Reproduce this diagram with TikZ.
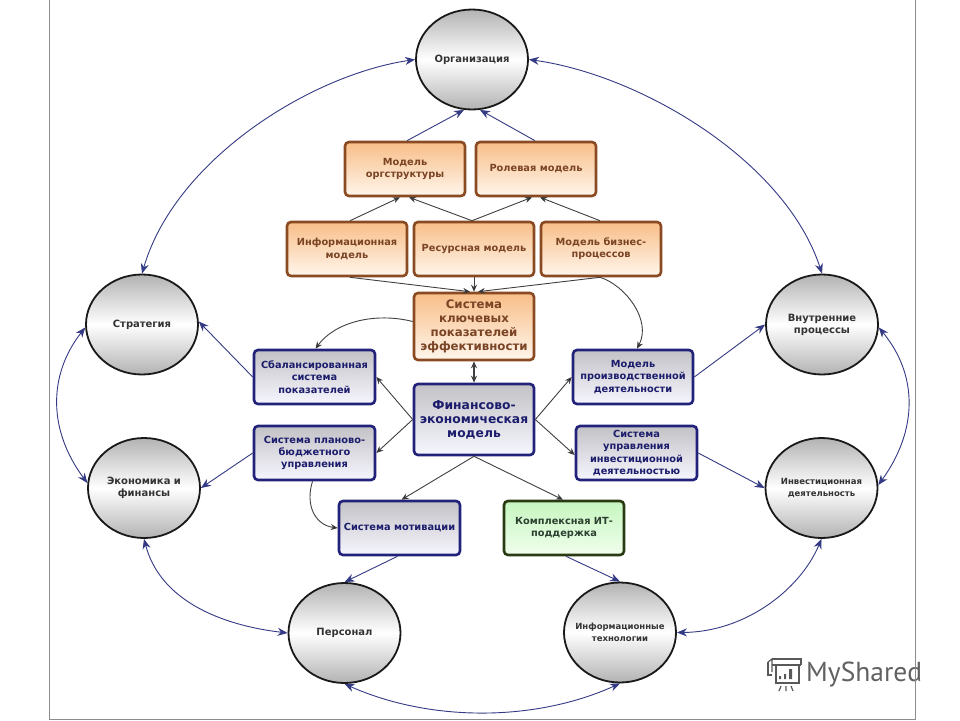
\documentclass[tikz,border=0pt]{standalone}
\usepackage{fontspec}
\setmainfont{DejaVu Sans}
\newfontfamily\wmfont{PT Sans}
\usetikzlibrary{arrows.meta,shapes.geometric}
\definecolor{brd}{HTML}{8A4A22}
\definecolor{brt}{HTML}{7A4425}
\definecolor{ort}{HTML}{F8BE88}
\definecolor{orb}{HTML}{FFF6EC}
\definecolor{blb}{HTML}{22227A}
\definecolor{blt}{HTML}{1C1C6C}
\definecolor{grt}{HTML}{C2C2C6}
\definecolor{grb}{HTML}{F6F6FE}
\definecolor{gnb}{HTML}{2A3A12}
\definecolor{gnt}{HTML}{2C4030}
\definecolor{gntop}{HTML}{C6F6C0}
\definecolor{gnbot}{HTML}{F0FEEC}
\definecolor{lnk}{HTML}{343A84}
\definecolor{circt}{HTML}{333333}
\tikzset{
  box/.style={rectangle,rounded corners=4pt,line width=2.6pt,minimum width=120pt,minimum height=54pt,align=center,inner sep=1pt,font=\fontsize{9.8}{12.2}\selectfont\bfseries},
  obox/.style={box,draw=brd,text=brt,top color=ort,bottom color=orb},
  bbox/.style={box,draw=blb,text=blt,top color=grt,bottom color=grb},
  gbox/.style={box,draw=gnb,text=gnt,top color=gntop,bottom color=gnbot},
  circ/.style={ellipse,draw=black!90,line width=1.8pt,minimum width=112pt,minimum height=100pt,inner sep=0pt,top color=black!30,bottom color=black!30,middle color=white},
  ctext/.style={align=center,text=circt,inner sep=0pt,font=\fontsize{10}{12.2}\selectfont\bfseries},
  csmall/.style={ctext,font=\fontsize{8.5}{11.5}\selectfont\bfseries},
  blue/.style={draw=lnk,line width=.9pt,-{Stealth[length=10pt,width=8pt,fill=lnk]}},
  bluetwo/.style={draw=lnk,line width=.9pt,{Stealth[length=10pt,width=8pt,fill=lnk]}-{Stealth[length=10pt,width=8pt,fill=lnk]}},
  inner/.style={draw=black!75,line width=.9pt,-{Stealth[length=7pt,width=6pt,fill=black]}},
  innertwo/.style={draw=black!75,line width=1.2pt,{Stealth[length=7pt,width=6pt,fill=black]}-{Stealth[length=7pt,width=6pt,fill=black]}}
}
\begin{document}
\begin{tikzpicture}[x=1pt,y=-1pt]
\useasboundingbox (0,0) rectangle (960,720);
\fill[white] (0,0) rectangle (960,720);

% circles
\node[circ,label={[ctext]center:Организация}] (org) at (472,59.5) {};
\node[circ,label={[ctext]center:Стратегия}] (str) at (142,324.5) {};
\node[circ,label={[ctext]center:{Экономика и\\финансы}}] (eco) at (144,488) {};
\node[circ,label={[ctext]center:{Внутренние\\процессы}}] (vnu) at (822,324.5) {};
\node[circ,label={[csmall]center:{Инвестиционная\\деятельность}}] (inv) at (821.5,488) {};
\node[circ,label={[ctext]center:Персонал}] (per) at (344.5,633) {};
\node[circ,label={[csmall]center:{Информационные\\технологии}}] (itc) at (620,632.5) {};

% boxes
\node[obox] (morg) at (405,169) {Модель\\оргструктуры};
\node[obox] (role) at (536,169) {Ролевая модель};
\node[obox] (info) at (347,249) {Информационная\\модель};
\node[obox] (res) at (474,249) {Ресурсная модель};
\node[obox] (biz) at (601,249) {Модель бизнес-\\процессов};
\node[obox,minimum height=67pt,font=\fontsize{11.8}{14}\selectfont\bfseries] (kpi) at (474,326.5) {Система\\ключевых\\показателей\\эффективности};
\node[bbox,minimum height=71pt,font=\fontsize{12.3}{14}\selectfont\bfseries] (fem) at (474,419.5) {Финансово-\\экономическая\\модель};
\node[bbox,minimum width=121pt] (bal) at (314.5,377) {Сбалансированная\\система\\показателей};
\node[bbox,minimum width=121pt] (plan) at (314.5,453) {Система планово-\\бюджетного\\управления};
\node[bbox] (prod) at (633,377) {Модель\\производственной\\деятельности};
\node[bbox,minimum width=121pt] (iman) at (636.5,453) {Система\\управления\\инвестиционной\\деятельностью};
\node[bbox,minimum width=121pt] (mot) at (399.5,528) {Система мотивации};
\node[gbox] (itb) at (564,528) {Комплексная ИТ-\\поддержка};

% circle-to-circle
\draw[bluetwo] (org.180) .. controls (310,75) and (175,160) .. (str.90);
\draw[bluetwo] (org.0) .. controls (640,75) and (785,160) .. (vnu.90);
\draw[bluetwo] (str.183) .. controls (48,375) and (48,430) .. (eco.175);
\draw[bluetwo] (vnu.357) .. controls (918,375) and (918,430) .. (inv.3);
\draw[bluetwo] (eco.270) .. controls (160,600) and (220,625) .. (per.180);
\draw[bluetwo] (per.270) .. controls (430,722) and (535,722) .. (itc.270);
\draw[bluetwo] (itc.0) .. controls (745,632) and (800,590) .. (inv.270);

% boxes to circles
\draw[blue] ([xshift=2]morg.north) -- (org.261);
\draw[blue] ([xshift=-1]role.north) -- (org.279);
\draw[blue] (bal.west) -- (str.3);
\draw[blue] (plan.west) -- (eco.0);
\draw[blue] (prod.east) -- (vnu.180);
\draw[blue] (iman.east) -- (inv.180);
\draw[blue] ([xshift=-2]mot.south) -- (per.90);
\draw[blue] ([xshift=2]itb.south) -- (itc.90);

% inner
\draw[inner] ([xshift=3]info.north) -- ([xshift=-5]morg.south);
\draw[inner] ([xshift=-2]res.north) -- ([xshift=4]morg.south);
\draw[inner] ([xshift=-2]res.north) -- ([xshift=-4]role.south);
\draw[inner] ([xshift=-1]biz.north) -- ([xshift=4]role.south);
\draw[inner] ([xshift=3]info.south) -- ([xshift=-4]kpi.north);
\draw[inner] (res.south) -- (kpi.north);
\draw[inner] ([xshift=-1]biz.south) -- ([xshift=4]kpi.north);
\draw[inner] ([xshift=-1]biz.south) .. controls (625,285) and (652,320) .. ([xshift=4]prod.north);
\draw[inner] ([yshift=5]kpi.west) .. controls (375,312) and (335,322) .. ([xshift=1]bal.north);
\draw[innertwo] (kpi.south) -- (fem.north);
\draw[inner] (fem.west) -- (bal.east);
\draw[inner] (fem.west) -- (plan.east);
\draw[inner] (fem.east) -- (prod.west);
\draw[inner] (fem.east) -- ([yshift=-2]iman.west);
\draw[inner] (fem.south) -- ([xshift=2]mot.north);
\draw[inner] (fem.south) -- ([xshift=-1]itb.north);
\draw[inner] ([xshift=-2]plan.south) .. controls (305,505) and (315,525) .. (mot.west);

% watermark
\node[text=black!62,font=\fontsize{27.5}{30}\wmfont,anchor=west,inner sep=0pt] (wm) at (806,675) {MyShared};
\begin{scope}[draw=black!65,line width=1.2pt]
\draw (768,662) -- (768,675) -- (772,675) (772,659) -- (801,659) -- (801,665) (772,665) -- (801,665) (776,665) -- (776,683) -- (799,683) -- (799,665);
\draw (768,662) -- (772,659) -- (772,672);
\draw (781,686) -- (779,691) (786,686) -- (786,691) (791,686) -- (793,691);
\fill[black!65] (779,676) rectangle +(2,3) (784,674) rectangle +(2,5) (789,669) rectangle +(3,10);
\end{scope}
\draw[black!45,line width=1pt] (49.5,-2) -- (49.5,719.5) -- (915,719.5) -- (915,-2);
\end{tikzpicture}
\end{document}
